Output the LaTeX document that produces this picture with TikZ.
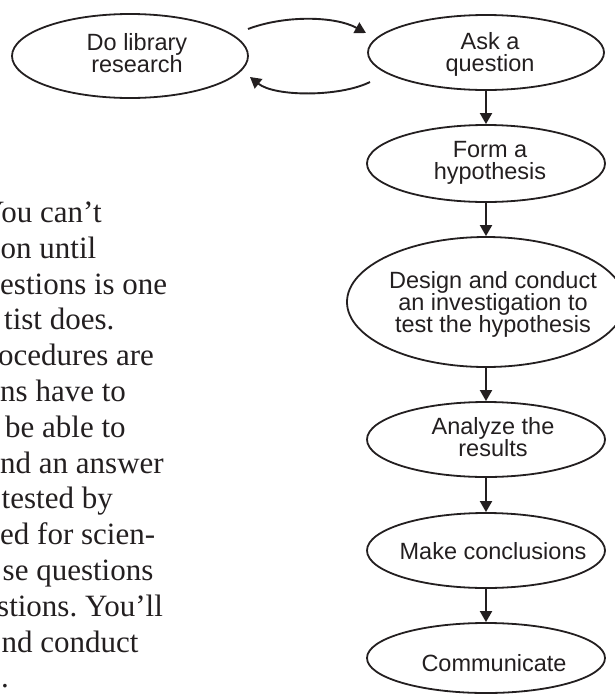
\documentclass[tikz,border=0pt]{standalone}
\usepackage{fontspec}
\setmainfont{Liberation Serif}
\newfontfamily\stagefont{Liberation Sans}
\usetikzlibrary{shapes.geometric,arrows.meta}
\definecolor{ink}{RGB}{35,31,32}
\frenchspacing
\begin{document}
\begin{tikzpicture}[x=1pt,y=-1pt,
  stage/.style={draw=ink, ellipse, line width=1.8pt, inner sep=0pt},
  lbl/.style={font=\stagefont\fontsize{23.5}{22}\selectfont, align=center, inner sep=0pt, text=ink},
  para/.style={anchor=base west, inner sep=0pt, font=\fontsize{31}{36}\selectfont, text=ink},
  flow/.style={-{Triangle[length=11pt,width=12pt]}, line width=1.9pt, draw=ink}]
\useasboundingbox (0,0) rectangle (615,694);

% paragraph (clipped at left edge)
\begin{scope}
\clip (0,0) rectangle (615,694);
\node[para] (p1)  at (-18,222) {You can’t};
\node[para] (p2)  at (0.5,258) {on until};
\node[para] (p3)  at (0,294)   {estions is one};
\node[para] (p4)  at (4,329)   {tist does.};
\node[para] (p5)  at (-2,365)  {ocedures are};
\node[para] (p6)  at (0,401)   {ns have to};
\node[para] (p7)  at (5,437)   {be able to};
\node[para] (p8)  at (0,473)   {nd an answer};
\node[para] (p9)  at (1.5,508) {tested by};
\node[para] (p10) at (0,544)   {ed for scien-};
\node[para] (p11) at (2.5,580) {se questions};
\node[para] (p12) at (-3,616)  {stions. You’ll};
\node[para] (p13) at (1.5,652) {nd conduct};
\node[para] (p14) at (1,687)   {.};
\end{scope}

% stages
\node[stage, minimum width=236pt, minimum height=84pt] (e1) at (130,56) {};
\node[stage, minimum width=236pt, minimum height=75pt] (e2) at (486,52.5) {};
\node[stage, minimum width=238pt, minimum height=77pt] (e3) at (486,163.5) {};
\node[stage, minimum width=278pt, minimum height=130pt] (e4) at (486,302) {};
\node[stage, minimum width=238pt, minimum height=75pt] (e5) at (486,439.5) {};
\node[stage, minimum width=238pt, minimum height=75pt] (e6) at (486,550.5) {};
\node[stage, minimum width=238pt, minimum height=70pt] (e7) at (486,658) {};

\node[lbl] (t1) at (137,53)    {Do library\\research};
\node[lbl] (t2) at (490,54)    {Ask a\\question};
\node[lbl] (t3) at (490,163)   {Form a\\hypothesis};
\node[lbl] (t4) at (493,304.5) {Design and conduct\\an investigation to\\test the hypothesis};
\node[lbl] (t5) at (493,437.5) {Analyze the\\results};
\node[lbl] (t6) at (493,551.5) {Make conclusions};
\node[lbl] (t7) at (494,663.5) {Communicate};

% vertical flow
\draw[flow] (e2) -- (e3);
\draw[flow] (e3) -- (e4);
\draw[flow] (e4) -- (e5);
\draw[flow] (e5) -- (e6);
\draw[flow] (e6) -- (e7);

% loop between library research and question
\coordinate (ta) at (248,29);
\coordinate (tb) at (366,33);
\coordinate (bs) at (370,82);
\coordinate (bt) at (250,77);
\draw[flow] (ta) .. controls (285,15) and (335,16) .. (tb);
\draw[flow] (bs) .. controls (340,97) and (275,97) .. (bt);
\end{tikzpicture}
\end{document}
